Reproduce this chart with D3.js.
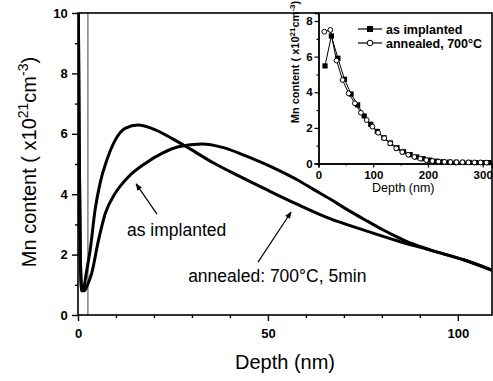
<!DOCTYPE html>
<html>
  <head>
    <meta charset="UTF-8" />
    <script src="https://cdnjs.cloudflare.com/ajax/libs/d3/7.8.5/d3.min.js"></script>
    <style>
      body { margin: 0; background: #fff; }
      svg { font-family: "Liberation Sans", Arial, sans-serif; }
      .frame { fill: none; stroke: #000; stroke-width: 1.6; }
      .tick-label { font-weight: bold; font-size: 13px; }
      .inset-label { font-weight: bold; font-size: 11.5px; }
      path.profile { fill: none; stroke: #000; stroke-width: 3; stroke-linejoin: round; }
      path.inset-line { fill: none; stroke: #000; stroke-width: 1; }
    </style>
  </head>
  <body>
    <svg id="chart" width="493" height="381"></svg>
    <script>
      // main profiles (depth nm, Mn content x10^21 cm^-3)
      var implantedDepth = [0, 0.3, 0.6, 1.0, 1.5, 2.2, 3.2, 4.5, 5.8, 7.6, 9.8, 12.4, 15.9, 19.4, 24.7, 29.5, 35.6, 42.7, 49.8, 57.8, 66.5, 75.3, 84, 92.9, 101.7, 109];
      var implantedValue = [12, 6, 2.0, 0.85, 0.9, 1.4, 2.15, 3.48, 4.36, 5.13, 5.79, 6.18, 6.29, 6.18, 5.85, 5.5, 5.04, 4.58, 4.14, 3.66, 3.18, 2.81, 2.46, 2.14, 1.82, 1.48];

      var annealedDepth = [0, 0.3, 0.6, 1.0, 1.6, 2.5, 3.6, 5.4, 7.2, 9.8, 13.3, 17.7, 22.1, 26.4, 32.6, 38, 43, 48.9, 53, 57.8, 62, 66.5, 71, 75.3, 80, 84.1, 88, 92.9, 101.7, 109];
      var annealedValue = [12, 6, 2.0, 0.8, 0.8, 1.0, 1.38, 2.48, 3.37, 4.03, 4.58, 5.02, 5.35, 5.57, 5.66, 5.55, 5.33, 5.02, 4.78, 4.47, 4.16, 3.83, 3.48, 3.17, 2.84, 2.58, 2.36, 2.15, 1.82, 1.49];

      var markerDepth = 2.6; // grey vertical line

      // inset data
      var insetImplDepth = [11.9, 23.5, 35.5, 47.5, 59.5, 71.5, 83.5, 95.5, 107.5, 119.5, 131.5, 143.5, 155.5, 167.5, 179.5, 191.5, 203.5, 215.5, 227.5, 239.5, 251.5, 263.5, 275.5, 287.5, 299.5, 311.5];
      var insetImplValue = [5.48, 7.16, 5.91, 4.73, 3.9, 3.29, 2.67, 2.2, 1.8, 1.45, 1.15, 0.88, 0.66, 0.5, 0.37, 0.27, 0.19, 0.13, 0.1, 0.08, 0.07, 0.06, 0.06, 0.05, 0.05, 0.05];
      var insetAnnDepth = [10.6, 21.6, 33, 44, 55, 66.5, 77.5, 88, 98.5, 109, 120, 131, 142, 153, 164, 175, 186, 197, 208, 219, 230, 241, 252, 263, 274, 285, 296, 307];
      var insetAnnValue = [7.4, 7.5, 5.78, 4.69, 3.94, 3.38, 2.85, 2.44, 2.07, 1.73, 1.42, 1.13, 0.85, 0.64, 0.49, 0.37, 0.27, 0.19, 0.14, 0.11, 0.09, 0.08, 0.07, 0.07, 0.06, 0.06, 0.06, 0.05];

      var xTicks = [0, 50, 100];
      var yTicks = [0, 2, 4, 6, 8, 10];
      var insetXTicks = [0, 100, 200, 300];
      var insetYTicks = [0, 2, 4, 6, 8];

      var svg = d3.select("#chart");

      var x = d3.scaleLinear().domain([0, 109]).range([78, 492]);
      var y = d3.scaleLinear().domain([0, 10]).range([315, 13]);

      svg.append("defs").append("clipPath").attr("id", "plotclip")
        .append("rect")
        .attr("x", x(0)).attr("y", y(10))
        .attr("width", x(109) - x(0)).attr("height", y(0) - y(10));

      svg.select("defs").append("marker")
        .attr("id", "arrow")
        .attr("viewBox", "0 0 10 10")
        .attr("refX", 9).attr("refY", 5)
        .attr("markerWidth", 7).attr("markerHeight", 7)
        .attr("markerUnits", "userSpaceOnUse")
        .attr("orient", "auto")
        .append("path").attr("d", "M0,1 L10,5 L0,9 Z").attr("fill", "#000");

      // grey vertical line
      svg.append("line")
        .attr("x1", x(markerDepth)).attr("x2", x(markerDepth))
        .attr("y1", y(10)).attr("y2", y(0))
        .attr("stroke", "#8a8a8a").attr("stroke-width", 1.6);

      var line = d3.line()
        .x(d => x(d[0]))
        .y(d => y(d[1]))
        .curve(d3.curveMonotoneX);

      var plotG = svg.append("g").attr("clip-path", "url(#plotclip)");
      plotG.append("path").attr("class", "profile")
        .attr("d", line(d3.zip(implantedDepth, implantedValue)));
      plotG.append("path").attr("class", "profile")
        .attr("d", line(d3.zip(annealedDepth, annealedValue)));

      // axes
      var xAxis = d3.axisBottom(x).tickValues(xTicks).tickSize(6).tickFormat(d3.format("d"));
      var gx = svg.append("g").attr("transform", "translate(0," + y(0) + ")").call(xAxis);
      gx.selectAll(".tick text").attr("class", "tick-label").attr("dy", "1.1em");
      var xMinor = d3.axisBottom(x).tickValues(d3.range(10, 110, 10).filter(v => v % 50)).tickSize(3).tickFormat("");
      svg.append("g").attr("transform", "translate(0," + y(0) + ")").call(xMinor);

      var yAxis = d3.axisLeft(y).tickValues(yTicks).tickSize(6);
      var gy = svg.append("g").attr("transform", "translate(" + x(0) + ",0)").call(yAxis);
      gy.selectAll(".tick text").attr("class", "tick-label").attr("dx", "-0.1em");
      var yMinor = d3.axisLeft(y).tickValues([1, 3, 5, 7, 9]).tickSize(3).tickFormat("");
      svg.append("g").attr("transform", "translate(" + x(0) + ",0)").call(yMinor);

      svg.selectAll(".domain").remove();
      svg.selectAll(".tick line").attr("stroke-width", 1.4);

      svg.append("rect").attr("class", "frame")
        .attr("x", x(0)).attr("y", y(10))
        .attr("width", x(109) - x(0)).attr("height", y(0) - y(10));

      // axis titles
      svg.append("text")
        .attr("x", (x(0) + x(109)) / 2).attr("y", 369)
        .attr("text-anchor", "middle").attr("font-size", 20)
        .text("Depth (nm)");

      var yt = svg.append("text")
        .attr("transform", "translate(36," + 162 + ") rotate(-90)")
        .attr("text-anchor", "middle").attr("font-size", 20);
      yt.append("tspan").text("Mn content ( x10");
      yt.append("tspan").attr("font-size", 14).attr("dy", -8).text("21");
      yt.append("tspan").attr("dy", 8).text("cm");
      yt.append("tspan").attr("font-size", 14).attr("dy", -8).text("-3");
      yt.append("tspan").attr("dy", 8).text(")");

      // annotations (data units)
      var notes = [
        { text: "as implanted", at: [12.9, 2.62], tail: [20.8, 3.34], tip: [15.3, 4.34] },
        { text: "annealed: 700\u00b0C, 5min", at: [29, 1.09], tail: [47.4, 1.75], tip: [56.1, 3.41] }
      ];
      notes.forEach(n => {
        svg.append("text").attr("x", x(n.at[0])).attr("y", y(n.at[1]))
          .attr("font-size", 17.5).text(n.text);
        svg.append("line")
          .attr("x1", x(n.tail[0])).attr("y1", y(n.tail[1]))
          .attr("x2", x(n.tip[0])).attr("y2", y(n.tip[1]))
          .attr("stroke", "#000").attr("stroke-width", 1.2)
          .attr("marker-end", "url(#arrow)");
      });

      // inset
      var ix = d3.scaleLinear().domain([0, 317]).range([318.5, 492]);
      var iy = d3.scaleLinear().domain([0, 8.45]).range([163.5, 13]);
      var inset = svg.append("g");

      var ixAxis = d3.axisBottom(ix).tickValues(insetXTicks).tickSize(4);
      var gix = inset.append("g").attr("transform", "translate(0," + iy(0) + ")").call(ixAxis);
      gix.selectAll(".tick text").attr("class", "inset-label").attr("dy", "0.72em");
      inset.append("g").attr("transform", "translate(0," + iy(0) + ")")
        .call(d3.axisBottom(ix).tickValues([50, 150, 250]).tickSize(2).tickFormat(""));

      var iyAxis = d3.axisLeft(iy).tickValues(insetYTicks).tickSize(4);
      var giy = inset.append("g").attr("transform", "translate(" + ix(0) + ",0)").call(iyAxis);
      giy.selectAll(".tick text").attr("class", "inset-label").attr("dx", "0.1em");
      inset.append("g").attr("transform", "translate(" + ix(0) + ",0)")
        .call(d3.axisLeft(iy).tickValues([1, 3, 5, 7]).tickSize(2).tickFormat(""));

      inset.selectAll(".domain").attr("stroke-width", 1.4);
      inset.selectAll(".tick line").attr("stroke-width", 1.2);

      var iline = d3.line().x(d => ix(d[0])).y(d => iy(d[1]));
      var implPts = d3.zip(insetImplDepth, insetImplValue);
      var annPts = d3.zip(insetAnnDepth, insetAnnValue);

      inset.append("path").attr("class", "inset-line").attr("d", iline(implPts));
      inset.selectAll("rect.sq").data(implPts).enter().append("rect")
        .attr("class", "sq")
        .attr("x", d => ix(d[0]) - 2.6).attr("y", d => iy(d[1]) - 2.6)
        .attr("width", 5.2).attr("height", 5.2).attr("fill", "#000");

      inset.append("path").attr("class", "inset-line").attr("d", iline(annPts));
      inset.selectAll("circle.ci").data(annPts).enter().append("circle")
        .attr("class", "ci")
        .attr("cx", d => ix(d[0])).attr("cy", d => iy(d[1]))
        .attr("r", 2.4).attr("fill", "#fff").attr("stroke", "#000").attr("stroke-width", 1);

      inset.append("text")
        .attr("x", (ix(0) + ix(317)) / 2 - 2).attr("y", 192)
        .attr("text-anchor", "middle").attr("font-size", 12.5)
        .text("Depth (nm)");

      var iyt = inset.append("text")
        .attr("transform", "translate(299,62) rotate(-90)")
        .attr("text-anchor", "middle").attr("font-size", 11).attr("font-weight", "bold");
      iyt.append("tspan").text("Mn content ( x10");
      iyt.append("tspan").attr("font-size", 8).attr("dy", -4).text("21");
      iyt.append("tspan").attr("dy", 4).text("cm");
      iyt.append("tspan").attr("font-size", 8).attr("dy", -4).text("-3");
      iyt.append("tspan").attr("dy", 4).text(")");

      // legend
      var legend = [
        { label: "as implanted", filled: true, y: 29 },
        { label: "annealed, 700\u00b0C", filled: false, y: 43 }
      ];
      legend.forEach(l => {
        inset.append("line").attr("x1", 358).attr("x2", 382)
          .attr("y1", l.y).attr("y2", l.y).attr("stroke", "#000").attr("stroke-width", 1.2);
        if (l.filled) {
          inset.append("rect").attr("x", 370 - 3).attr("y", l.y - 3)
            .attr("width", 6).attr("height", 6).attr("fill", "#000");
        } else {
          inset.append("circle").attr("cx", 370).attr("cy", l.y).attr("r", 2.8)
            .attr("fill", "#fff").attr("stroke", "#000");
        }
        inset.append("text").attr("x", 386).attr("y", l.y + 4.5)
          .attr("font-size", 12.5).attr("font-weight", "bold").text(l.label);
      });
    </script>
  </body>
</html>
